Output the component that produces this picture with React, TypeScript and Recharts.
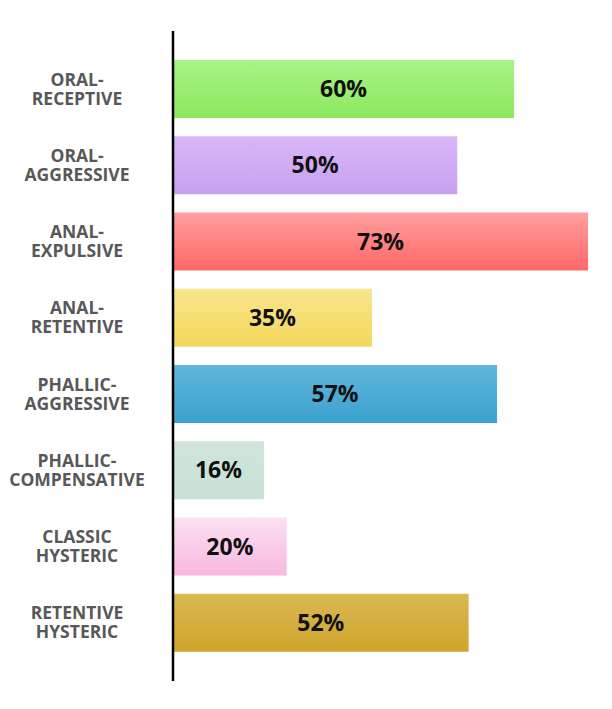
import React from 'react';
import { BarChart, Bar, XAxis, YAxis, Cell, LabelList } from 'recharts';

const categories = [
  'ORAL-|RECEPTIVE',
  'ORAL-|AGGRESSIVE',
  'ANAL-|EXPULSIVE',
  'ANAL-|RETENTIVE',
  'PHALLIC-|AGGRESSIVE',
  'PHALLIC-|COMPENSATIVE',
  'CLASSIC|HYSTERIC',
  'RETENTIVE|HYSTERIC',
];
const values = [60, 50, 73, 35, 57, 16, 20, 52];
const topColors = ['#a8f386', '#d8b8f8', '#ff9f9f', '#f9e68e', '#60b6db', '#cfe5da', '#fde0f2', '#dab852'];
const bottomColors = ['#8de85f', '#c8a0f0', '#ff6767', '#f4d75a', '#3ca2ce', '#c9e1d4', '#f7b8e0', '#cfa42c'];

const data = categories.map((name, i) => ({ name, value: values[i] }));

const FONT = '"Open Sans", "DejaVu Sans", sans-serif';

const CategoryTick = (props: any) => {
  const { y, payload } = props;
  const lines = String(payload.value).split('|');
  return (
    <text
      x={69}
      y={y}
      textAnchor="middle"
      fill="#585858"
      style={{ fontFamily: FONT, fontWeight: 700, fontSize: 17.5 }}
    >
      <tspan x={69} dy={-3.5}>{lines[0]}</tspan>
      <tspan x={69} dy={19}>{lines[1]}</tspan>
    </text>
  );
};

export default function App() {
  return (
    <div style={{ width: 596, height: 690 }}>
      <BarChart
        width={596}
        height={690}
        data={data}
        layout="vertical"
        margin={{ top: 23, right: 16, bottom: 17, left: 0 }}
        barCategoryGap={9}
      >
        <defs>
          {values.map((_, i) => (
            <linearGradient key={i} id={`grad${i}`} x1="0" y1="0" x2="0" y2="1">
              <stop offset="0%" stopColor={topColors[i]} />
              <stop offset="100%" stopColor={bottomColors[i]} />
            </linearGradient>
          ))}
        </defs>
        <XAxis type="number" domain={[0, 73]} hide />
        <YAxis
          type="category"
          dataKey="name"
          width={165}
          axisLine={{ stroke: '#000', strokeWidth: 2.5 }}
          stroke="#000"
          strokeWidth={2.5}
          tickLine={false}
          padding={{ top: 20, bottom: 20 }}
          tick={<CategoryTick />}
          interval={0}
        />
        <Bar dataKey="value" isAnimationActive={false}>
          {values.map((_, i) => (
            <Cell key={i} fill={`url(#grad${i})`} />
          ))}
          <LabelList
            dataKey="value"
            position="center"
            formatter={(v: any) => `${v}%`}
            fill="#111"
            style={{ fontFamily: FONT, fontWeight: 700, fontSize: 23 }}
          />
        </Bar>
      </BarChart>
    </div>
  );
}
